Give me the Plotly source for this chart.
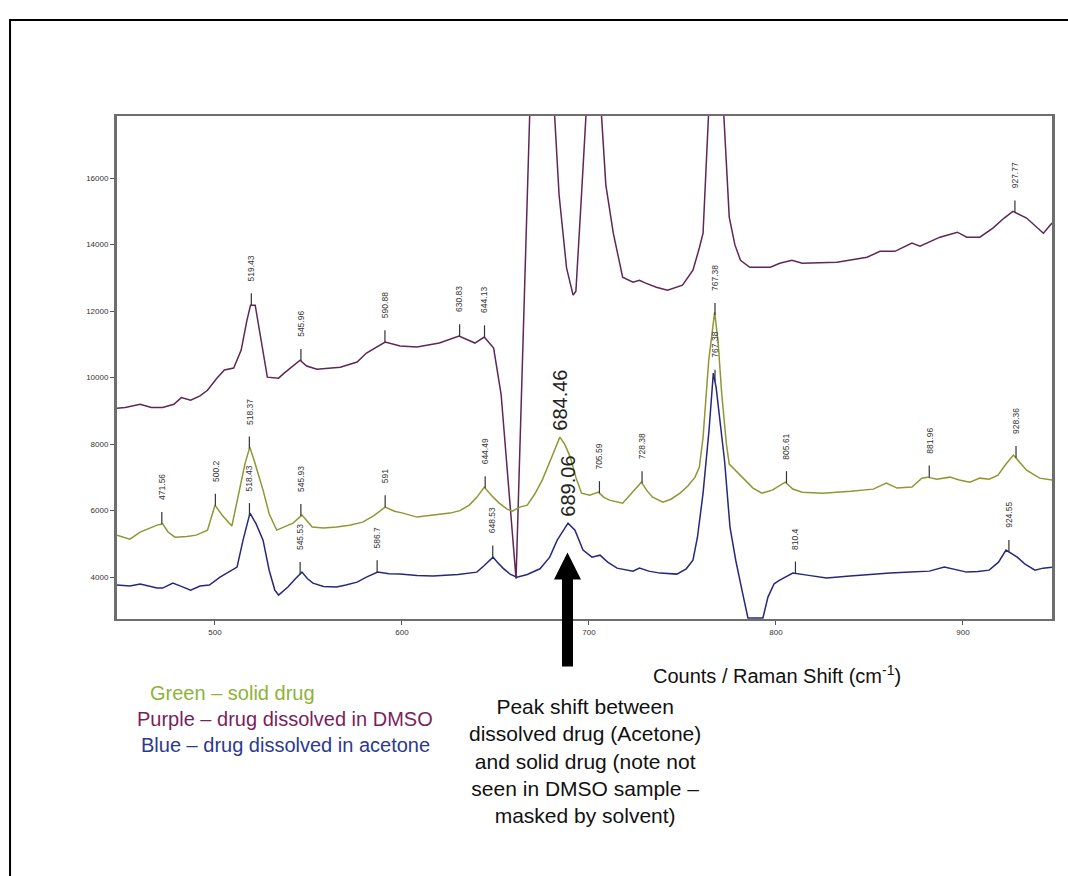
import numpy as np
import plotly.graph_objects as go

# ---------------- data ----------------
purple_x = [447.6, 452, 460, 466, 472, 478, 482, 487, 492, 496, 501, 505, 510, 514, 517, 519, 521.5, 524,
            528, 534, 537, 545.5, 549, 554.5, 567, 576, 581, 591, 599, 608, 620, 630.5, 639, 644, 649,
            653, 661, 668.5, 672, 678, 681, 684, 688, 691.5, 693, 696, 699, 702, 706, 709, 713, 718,
            723.5, 727, 730, 736, 742, 750, 755.6, 759, 761, 764, 768, 772, 775, 778, 781, 786, 793,
            797, 802, 808.5, 814, 832.6, 848.7, 855.6, 863.6, 872.7, 877, 887.7, 897, 902, 909, 916,
            922, 926.7, 934, 943, 947.6]
purple_y = [9080, 9100, 9200, 9100, 9100, 9200, 9400, 9320, 9450, 9620, 9980, 10230, 10290, 10830, 11700,
            12180, 12180, 11300, 10015, 9985, 10135, 10526, 10350, 10255, 10315, 10470, 10740, 11070,
            10950, 10920, 11040, 11250, 11040, 11220, 10890, 9500, 3950, 18300, 30000, 30000, 18500,
            15500, 13300, 12480, 12600, 15500, 18500, 30000, 18500, 15800, 14345, 13020, 12870, 12930,
            12850, 12720, 12630, 12780, 13230, 13900, 14345, 18000, 30000, 18000, 14830, 14000, 13530,
            13320, 13320, 13320, 13440, 13530, 13440, 13470, 13620, 13800, 13800, 14045, 13955, 14225,
            14375, 14225, 14225, 14500, 14800, 15000, 14800, 14345, 14650]

green_x = [447.6, 451, 454.5, 460, 465, 469, 472, 475, 478.6, 485, 490, 496, 500, 504, 509, 513, 516,
           518.6, 521, 525.7, 529, 533, 537, 541.7, 546.5, 552, 558, 565, 572, 579, 585, 591, 596,
           600.5, 608, 617, 625.7, 631, 636, 640, 644, 648, 652, 656, 659, 663, 667, 671, 675, 680,
           684.4, 687, 690, 693, 696, 700.5, 705, 708, 711, 718, 723.5, 728, 731, 734, 739.6, 744,
           748.7, 753, 756.7, 759, 761, 764, 767.2, 769, 771, 773.5, 775, 780.7, 787.7, 792.5, 798,
           805, 809, 814, 825, 840, 852, 859, 864.7, 872.7, 878, 881, 886, 893, 898, 903.7, 909, 914,
           918.7, 923, 927, 934, 941, 947.6]
green_y = [5263, 5200, 5140, 5353, 5480, 5564, 5600, 5350, 5200, 5220, 5263, 5413, 6165, 5850, 5534, 6616,
           7400, 7910, 7500, 6616, 5900, 5413, 5500, 5624, 5865, 5504, 5480, 5504, 5560, 5654, 5850,
           6105, 5980, 5925, 5805, 5860, 5925, 6000, 6165, 6400, 6707, 6450, 6225, 6050, 5985, 6105,
           6165, 6500, 6917, 7600, 8210, 8000, 7610, 7000, 6526, 6466, 6556, 6400, 6316, 6225, 6556,
           6857, 6600, 6406, 6256, 6350, 6526, 6750, 7007, 7300, 8200, 10500, 11970, 11100, 9500, 8000,
           7400, 7067, 6677, 6526, 6616, 6857, 6650, 6556, 6526, 6580, 6646, 6827, 6677, 6707, 6977,
           7007, 6947, 7007, 6920, 6857, 6977, 6947, 7067, 7400, 7670, 7218, 6977, 6917]

blue_x = [447.6, 454.5, 460, 465, 469, 472, 477.5, 482, 487, 492, 497, 502.7, 508, 511.8, 515, 518.7,
          522, 525.7, 529, 532, 534, 536, 539, 543, 546.5, 549.5, 552.4, 558, 565, 570, 576, 581, 587,
          593, 599, 608, 616.6, 630, 640, 644, 648.7, 651, 654, 658, 661.5, 667, 673.8, 679, 683,
          688.8, 692.5, 696.8, 701.6, 705.9, 710, 715, 723.5, 727, 732, 738, 747, 752, 755.6, 758,
          761, 764.2, 766.5, 768, 770.8, 772.5, 775.4, 778.5, 781.8, 785, 789, 793, 795.7, 799, 802,
          809, 816.6, 827, 839.6, 850, 861, 872, 882, 890, 896, 902, 908, 914, 919, 923, 929, 933,
          938.5, 942.8, 947.6]
blue_y = [3760, 3730, 3790, 3720, 3670, 3670, 3820, 3720, 3610, 3730, 3760, 4000, 4180, 4300, 5113, 5925,
          5600, 5113, 4200, 3610, 3460, 3550, 3700, 3950, 4150, 3950, 3820, 3720, 3700, 3760, 3850,
          4000, 4150, 4100, 4090, 4050, 4030, 4080, 4150, 4350, 4600, 4450, 4270, 4080, 4000, 4080,
          4250, 4600, 5113, 5624, 5413, 4812, 4600, 4660, 4450, 4270, 4180, 4270, 4180, 4120, 4090,
          4250, 4510, 5200, 6526, 8420, 10135, 9700, 8420, 7500, 5504, 4500, 3610, 2770, 2770, 2770,
          3400, 3800, 3910, 4120, 4060, 3970, 4030, 4080, 4120, 4150, 4180, 4300, 4230, 4150, 4170,
          4210, 4450, 4812, 4600, 4400, 4210, 4270, 4300]

purple_peaks = ["519.43", "545.96", "590.88", "630.83", "644.13", "927.77"]
green_peaks = ["471.56", "500.2", "518.37", "545.93", "591", "644.49", "705.59", "728.38",
               "767.38", "805.61", "881.96", "928.36"]
blue_peaks = ["518.43", "545.53", "586.7", "648.53", "767.38", "810.4", "924.55"]
big_peaks = [("684.46", "green"), ("689.06", "blue")]

x_ticks = [500, 600, 700, 800, 900]
y_ticks = [4000, 6000, 8000, 10000, 12000, 14000, 16000]
x_range = [447.6, 947.6]
y_range = [2740, 17870]

# ---------------- styling ----------------
C_PURPLE = "#5e2756"
C_GREEN = "#8f9733"
C_BLUE = "#27287c"
FONT = "Liberation Sans, Arial, sans-serif"

series = {
    "purple": (purple_x, purple_y, C_PURPLE, purple_peaks),
    "green": (green_x, green_y, C_GREEN, green_peaks),
    "blue": (blue_x, blue_y, C_BLUE, blue_peaks),
}

fig = go.Figure()
for name in ["purple", "green", "blue"]:
    xs, ys, col, _ = series[name]
    fig.add_trace(go.Scatter(x=xs, y=ys, mode="lines", line=dict(color=col, width=1.5),
                             showlegend=False, hoverinfo="skip"))

shapes = []
annotations = []

# peak ticks and labels
for name in ["purple", "green", "blue"]:
    xs, ys, col, peaks = series[name]
    for lbl in peaks:
        px = float(lbl)
        pv = float(np.interp(px, xs, ys))
        shapes.append(dict(type="line", xref="x", yref="y", ysizemode="pixel", yanchor=pv,
                           x0=px, x1=px, y0=0, y1=12, line=dict(color="#333333", width=1.2)))
        annotations.append(dict(x=px, y=pv, xref="x", yref="y", text=lbl, showarrow=False,
                                textangle=-90, yanchor="bottom", xanchor="center", yshift=22,
                                font=dict(family=FONT, size=8.5, color="#333333")))

for lbl, name in big_peaks:
    xs, ys, col, _ = series[name]
    px = float(lbl)
    pv = float(np.interp(px, xs, ys))
    annotations.append(dict(x=px, y=pv, xref="x", yref="y", text=lbl, showarrow=False,
                            textangle=-90, yanchor="bottom", xanchor="center", yshift=5,
                            font=dict(family=FONT, size=20, color="#222222")))

# big black arrow under the 689.06 peak (pixel geometry anchored at the peak)
bx = 688.5
bv = float(np.interp(689.06, blue_x, blue_y))
ax_anchor = (bx - x_range[0]) / (x_range[1] - x_range[0])
ay_anchor = (bv - y_range[0]) / (y_range[1] - y_range[0])
shapes.append(dict(type="path", xref="paper", yref="paper", xsizemode="pixel", ysizemode="pixel",
                   xanchor=ax_anchor, yanchor=ay_anchor,
                   path="M 0,-29 L 13.5,-56 L 5.5,-56 L 5.5,-143 L -5.5,-143 L -5.5,-56 L -13.5,-56 Z",
                   fillcolor="black", line=dict(color="black", width=0)))

# outer frame (left and top edges visible)
shapes.append(dict(type="rect", xref="paper", yref="paper", x0=-0.1144, x1=1.2, y0=-1.0, y1=1.1909,
                   line=dict(color="black", width=2), fillcolor="rgba(0,0,0,0)", layer="below"))

# text blocks
annotations.append(dict(x=0.706, y=-0.111, xref="paper", yref="paper", showarrow=False,
                        text="Counts / Raman Shift (cm<sup>-1</sup>)", xanchor="center", yanchor="middle",
                        font=dict(family=FONT, size=20, color="#111111")))
annotations.append(dict(x=0.5005, y=-0.282, xref="paper", yref="paper", showarrow=False, align="center",
                        text="Peak shift between<br>dissolved drug (Acetone)<br>and solid drug (note not<br>"
                             "seen in DMSO sample –<br>masked by solvent)",
                        xanchor="center", yanchor="middle",
                        font=dict(family=FONT, size=21, color="#111111")))
legend_lines = [("Green – solid drug", "#8db339", 693, 148, "left"),
                ("Purple – drug dissolved in DMSO", "#7a1f5c", 719, 285, "center"),
                ("Blue – drug dissolved in acetone", "#2b3990", 745, 285, "center")]
for txt, col, py, pxx, anc in legend_lines:
    annotations.append(dict(x=(pxx - 117) / 935, y=(619 - py) / 503, xref="paper", yref="paper",
                            showarrow=False, text=txt, xanchor=anc, yanchor="middle",
                            font=dict(family=FONT, size=20, color=col)))

fig.update_layout(
    width=1068, height=876, autosize=False,
    margin=dict(l=117, r=16, t=116, b=257),
    paper_bgcolor="white", plot_bgcolor="white",
    shapes=shapes, annotations=annotations,
    xaxis=dict(range=x_range, tickvals=x_ticks, ticktext=[str(v) for v in x_ticks],
               showgrid=False, zeroline=False, showline=True, mirror=True,
               linecolor="#6e6e6e", linewidth=2, ticks="outside", ticklen=4, tickcolor="#555555",
               tickfont=dict(family=FONT, size=8, color="#333333")),
    yaxis=dict(range=y_range, tickvals=y_ticks, ticktext=[str(v) for v in y_ticks],
               showgrid=False, zeroline=False, showline=True, mirror=True,
               linecolor="#6e6e6e", linewidth=3, ticks="outside", ticklen=4, tickcolor="#555555",
               tickfont=dict(family=FONT, size=8, color="#333333")),
)

fig.write_html("out.html")
